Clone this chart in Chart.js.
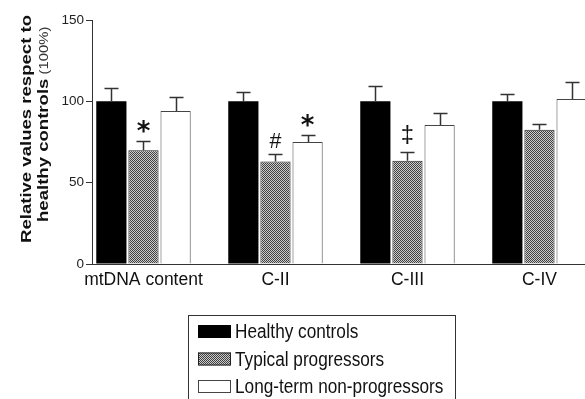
<!DOCTYPE html>
<html>
<head>
<meta charset="utf-8">
<script src="https://cdn.jsdelivr.net/npm/chart.js@4/dist/chart.umd.min.js"></script>
<style>
  html, body { margin: 0; padding: 0; background: #fff; overflow: hidden; }
  #wrap { width: 585px; height: 399px; }
</style>
</head>
<body>
<div id="wrap"><canvas id="c" width="585" height="399"></canvas></div>
<script>
// Categories and series
const categories = ['mtDNA content', 'C-II', 'C-III', 'C-IV'];
const seriesNames = ['Healthy controls', 'Typical progressors', 'Long-term non-progressors'];

// Mean values (% of healthy controls) and upper error (SEM)
const healthyValues = [100, 100, 100, 100];
const healthyErrors = [8, 5.5, 9.5, 4.5];
const typicalValues = [70, 63, 63.5, 82.5];
const typicalErrors = [5.5, 4.7, 5.5, 3.5];
const ltnpValues = [94, 75, 85.5, 101.5];
const ltnpErrors = [8.5, 4, 7.5, 10.5];

// Significance symbols placed above error bars
const healthyMarks = ['', '', '', ''];
const typicalMarks = ['*', '#', '‡', ''];
const ltnpMarks = ['', '*', '', ''];

// Value axis ticks
const yTicks = [0, 50, 100, 150];

const SANS = '"Liberation Sans", Arial, sans-serif';

// Fine checker fill for the typical-progressors bars
function makeChecker() {
  const c = document.createElement('canvas');
  c.width = 2; c.height = 2;
  const g = c.getContext('2d');
  g.fillStyle = '#cccccc'; g.fillRect(0, 0, 2, 2);
  g.fillStyle = '#404040'; g.fillRect(0, 0, 1, 1); g.fillRect(1, 1, 1, 1);
  return g.createPattern(c, 'repeat');
}
const checker = makeChecker();

const toPoints = vals => vals.map((v, i) => ({ x: i, y: v }));

// Error bars: vertical whisker with cap, drawn from value to value + error
const errorBars = {
  id: 'errorBars',
  afterDatasetsDraw(chart) {
    const ctx = chart.ctx, ys = chart.scales.y;
    ctx.save();
    ctx.strokeStyle = '#333';
    ctx.lineWidth = 1.5;
    chart.data.datasets.forEach((ds, d) => {
      const meta = chart.getDatasetMeta(d);
      meta.data.forEach((el, i) => {
        const v = ds.data[i].y, e = ds.errors[i];
        const yTop = Math.round(ys.getPixelForValue(v + e)) + 0.5;
        const yBar = ys.getPixelForValue(v);
        const x = Math.round(el.x) + 0.5;
        ctx.beginPath();
        ctx.moveTo(x, yBar); ctx.lineTo(x, yTop);
        ctx.moveTo(x - 7, yTop); ctx.lineTo(x + 7, yTop);
        ctx.stroke();
      });
    });
    ctx.restore();
  }
};

// Significance symbols above the whiskers
const markStyle = {
  '*': { family: '"DejaVu Sans", sans-serif', weight: 'bold', height: 13, gap: 8.5 },
  '#': { family: SANS, weight: 'normal', height: 15, gap: 5.5 },
  '‡': { family: SANS, weight: 'normal', height: 19, gap: 7.5 }
};
const sigMarks = {
  id: 'sigMarks',
  afterDatasetsDraw(chart) {
    const ctx = chart.ctx, ys = chart.scales.y;
    ctx.save();
    ctx.fillStyle = '#111';
    ctx.textAlign = 'center';
    ctx.textBaseline = 'alphabetic';
    chart.data.datasets.forEach((ds, d) => {
      const meta = chart.getDatasetMeta(d);
      meta.data.forEach((el, i) => {
        const t = ds.marks[i];
        if (!t) return;
        const st = markStyle[t];
        ctx.font = `${st.weight} 20px ${st.family}`;
        let m = ctx.measureText(t);
        const size = 20 * st.height / (m.actualBoundingBoxAscent + m.actualBoundingBoxDescent);
        ctx.font = `${st.weight} ${size.toFixed(1)}px ${st.family}`;
        m = ctx.measureText(t);
        const yTop = ys.getPixelForValue(ds.data[i].y + ds.errors[i]);
        ctx.fillText(t, el.x, yTop - st.gap - m.actualBoundingBoxDescent);
      });
    });
    ctx.restore();
  }
};

// Rotated two-line value-axis title
const yTitle = {
  id: 'yTitle',
  afterDraw(chart) {
    const ctx = chart.ctx;
    ctx.save();
    ctx.fillStyle = '#111';
    ctx.textBaseline = 'middle';
    ctx.textAlign = 'left';
    const line1 = 'Relative values respect to';
    ctx.font = `bold 15px ${SANS}`;
    const k = 228 / ctx.measureText(line1).width;
    // first line
    ctx.save();
    ctx.translate(27, 243);
    ctx.rotate(-Math.PI / 2);
    ctx.scale(k, 1);
    ctx.fillText(line1, 0, 0);
    ctx.restore();
    // second line: bold part + lighter unit
    ctx.save();
    ctx.translate(44, 222);
    ctx.rotate(-Math.PI / 2);
    ctx.scale(k, 1);
    ctx.font = `bold 15px ${SANS}`;
    const p1 = 'healthy controls';
    ctx.fillText(p1, 0, 0);
    const w1 = ctx.measureText(p1).width;
    ctx.font = `normal 12px ${SANS}`;
    ctx.fillStyle = '#333';
    ctx.fillText(' (100%)', w1, 0.5);
    ctx.restore();
    ctx.restore();
  }
};

// Boxed legend below the plot, condensed lettering
const boxLegend = {
  id: 'boxLegend',
  afterDraw(chart) {
    const ctx = chart.ctx;
    ctx.save();
    ctx.strokeStyle = '#333';
    ctx.lineWidth = 1;
    ctx.strokeRect(188.5, 315.5, 267, 100);
    const rowY = [331.5, 359, 386.5];
    chart.data.datasets.forEach((ds, d) => {
      const cy = rowY[d];
      ctx.fillStyle = ds.backgroundColor;
      ctx.fillRect(198, cy - 6.5, 33, 13);
      ctx.strokeStyle = ds.borderColor;
      ctx.strokeRect(198.5, cy - 6, 32, 12);
      ctx.save();
      ctx.translate(235, cy + 1);
      ctx.scale(0.86, 1);
      ctx.fillStyle = '#111';
      ctx.font = `20px ${SANS}`;
      ctx.textBaseline = 'middle';
      ctx.textAlign = 'left';
      ctx.fillText(ds.label, 0, 0);
      ctx.restore();
    });
    ctx.restore();
  }
};

const barCommon = { categoryPercentage: 0.73, barPercentage: 0.94, borderSkipped: 'bottom' };

new Chart(document.getElementById('c'), {
  type: 'bar',
  data: {
    datasets: [
      { label: seriesNames[0], data: toPoints(healthyValues), errors: healthyErrors, marks: healthyMarks,
        backgroundColor: '#000', borderColor: '#000', borderWidth: 0, ...barCommon },
      { label: seriesNames[1], data: toPoints(typicalValues), errors: typicalErrors, marks: typicalMarks,
        backgroundColor: checker, borderColor: '#222', borderWidth: 1, ...barCommon },
      { label: seriesNames[2], data: toPoints(ltnpValues), errors: ltnpErrors, marks: ltnpMarks,
        backgroundColor: '#fff', borderColor: '#444', borderWidth: 1, ...barCommon }
    ]
  },
  options: {
    responsive: false,
    devicePixelRatio: 1,
    animation: false,
    layout: { padding: { top: 20, bottom: 105, left: 0, right: 0 } },
    plugins: { legend: { display: false }, tooltip: { enabled: false } },
    scales: {
      x: {
        type: 'linear',
        min: -0.39,
        max: 3.345,
        offset: false,
        grid: { display: false, drawTicks: false },
        border: { display: true, color: '#333', width: 1 },
        afterBuildTicks: s => { s.ticks = categories.map((_, i) => ({ value: i })); },
        afterFit: s => { s.height = 30; },
        ticks: {
          padding: 6,
          color: '#111',
          maxRotation: 0,
          autoSkip: false,
          font: { family: SANS, size: 17.5 },
          callback: v => categories[v] ?? ''
        }
      },
      y: {
        min: 0,
        max: 150,
        afterBuildTicks: s => { s.ticks = yTicks.map(v => ({ value: v })); },
        afterFit: s => { s.width = 92; },
        grid: { drawOnChartArea: false, tickLength: 6, color: '#333' },
        border: { color: '#333', width: 1 },
        ticks: { padding: 2, color: '#222', font: { family: SANS, size: 13.5 } }
      }
    }
  },
  plugins: [errorBars, sigMarks, yTitle, boxLegend]
});
</script>
</body>
</html>
